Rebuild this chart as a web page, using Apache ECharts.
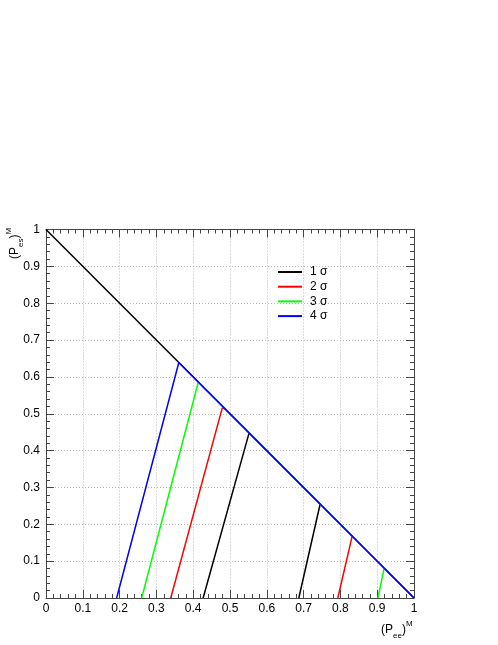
<!DOCTYPE html>
<html>
<head>
<meta charset="utf-8">
<script src="https://cdn.jsdelivr.net/npm/echarts@6/dist/echarts.min.js"></script>
<style>
  html, body { margin: 0; padding: 0; background: #fff; }
  #chart { width: 498px; height: 645px; }
</style>
</head>
<body>
<div id="chart"></div>
<script>
// tick labels and contour data
const tickValues = [0, 0.1, 0.2, 0.3, 0.4, 0.5, 0.6, 0.7, 0.8, 0.9, 1]
const legendNames = ['1 σ', '2 σ', '3 σ', '4 σ']
const lineColors = ['#000000', '#ff0000', '#00ff00', '#0000ff']

const boundary = [[0, 1], [1, 0]]
const sigma1 = [[0.427, 0], [0.552, 0.448], [0.745, 0.255], [0.687, 0]]
const sigma2 = [[0.339, 0], [0.479, 0.516], [0.487, 0.513], [0.832, 0.168], [0.793, 0]]
const sigma3 = [[0.260, 0], [0.414, 0.586], [0.919, 0.081], [0.902, 0]]
const sigma4 = [[0.192, 0], [0.361, 0.639], [1, 0]]

const contours = [sigma1, sigma2, sigma3, sigma4]

const chart = echarts.init(document.getElementById('chart'))

const FONT = '"Liberation Sans", Arial, sans-serif'
const frameColor = '#444'

function tickFmt(v) {
  const r = Math.round(v * 10) / 10
  return tickValues.includes(r) ? String(r) : ''
}

function makeAxis(position, showLabels, showGrid) {
  return {
    type: 'value',
    position: position,
    min: 0,
    max: 1,
    interval: 0.1,
    axisLine: { show: true, onZero: false, lineStyle: { color: frameColor, width: 1 } },
    axisTick: { show: true, inside: true, length: 8, lineStyle: { color: frameColor } },
    minorTick: { show: true, splitNumber: 5, length: 4, lineStyle: { color: frameColor } },
    axisLabel: {
      show: showLabels,
      color: '#000',
      fontFamily: FONT,
      fontSize: 12,
      margin: position === 'bottom' ? 5 : 6,
      showMinLabel: true,
      showMaxLabel: true,
      formatter: tickFmt
    },
    splitLine: {
      show: showGrid,
      lineStyle: { color: '#b8b8b8', type: [1, 2], width: 1 }
    },
    minorSplitLine: { show: false }
  }
}

const series = [
  {
    name: 'boundary',
    type: 'line',
    data: boundary,
    showSymbol: false,
    lineStyle: { color: '#000', width: 1.5 },
    silent: true,
    z: 2
  }
]
contours.forEach((d, i) => {
  series.push({
    name: legendNames[i],
    type: 'line',
    data: d,
    showSymbol: false,
    symbol: 'none',
    lineStyle: { color: lineColors[i], width: 1.5 },
    itemStyle: { color: lineColors[i] },
    z: 3 + i
  })
})

const option = {
  backgroundColor: '#fff',
  animation: false,
  grid: { left: 46, top: 229.5, width: 368, height: 368.5, containLabel: false },
  xAxis: [makeAxis('bottom', true, true), makeAxis('top', false, false)],
  yAxis: [makeAxis('left', true, true), makeAxis('right', false, false)],
  legend: {
    data: legendNames.map((n, i) => ({ name: n, icon: 'rect', itemStyle: { color: lineColors[i] } })),
    orient: 'vertical',
    left: 273,
    top: 260,
    itemWidth: 24,
    itemHeight: 2,
    itemGap: 0.7,
    textStyle: { fontFamily: FONT, fontSize: 12, color: '#000', lineHeight: 14, padding: [0, 0, 0, 3] }
  },
  graphic: [
    {
      type: 'text',
      left: 381,
      top: 620,
      style: {
        text: '{a|(P}{s|ee}{a|)}{u|M}',
        fontFamily: FONT,
        rich: {
          a: { fontSize: 12, fontFamily: FONT, fill: '#000', lineHeight: 20, verticalAlign: 'middle' },
          s: { fontSize: 8, fontFamily: FONT, fill: '#000', lineHeight: 20, verticalAlign: 'bottom' },
          u: { fontSize: 8, fontFamily: FONT, fill: '#000', lineHeight: 20, verticalAlign: 'top' }
        }
      }
    },
    {
      type: 'text',
      x: 5,
      y: 259,
      rotation: Math.PI / 2,
      style: {
        text: '{a|(P}{s|es}{a|)}{u|M}',
        fontFamily: FONT,
        rich: {
          a: { fontSize: 12, fontFamily: FONT, fill: '#000', lineHeight: 20, verticalAlign: 'middle' },
          s: { fontSize: 8, fontFamily: FONT, fill: '#000', lineHeight: 20, verticalAlign: 'bottom' },
          u: { fontSize: 8, fontFamily: FONT, fill: '#000', lineHeight: 20, verticalAlign: 'top' }
        }
      }
    }
  ],
  series: series
}

chart.setOption(option)
</script>
</body>
</html>
